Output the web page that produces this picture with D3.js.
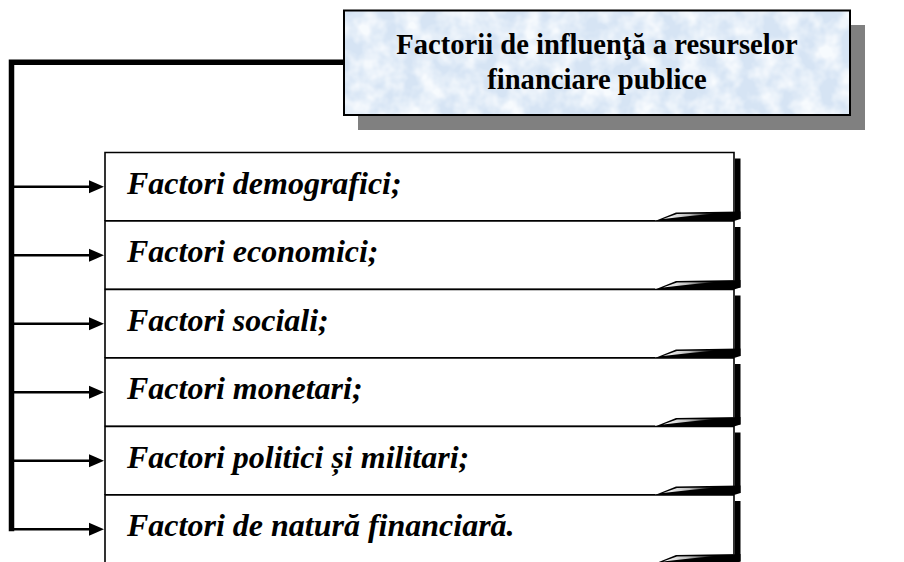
<!DOCTYPE html>
<html><head><meta charset="utf-8">
<script src="https://cdn.jsdelivr.net/npm/d3@7"></script>
<style>html,body{margin:0;padding:0;background:#fff;}svg{display:block;}</style>
</head><body>
<script>
const titleLines = ["Factorii de influenţă a resurselor", "financiare publice"];
const factors = [
  "Factori demografici;",
  "Factori economici;",
  "Factori sociali;",
  "Factori monetari;",
  "Factori politici și militari;",
  "Factori de natură financiară."
];

const W = 904, H = 562;
const svg = d3.select("body").append("svg").attr("width", W).attr("height", H);
const defs = svg.append("defs");
const g1 = defs.append("linearGradient").attr("id","curl").attr("x1","0").attr("x2","1").attr("y1","0").attr("y2","0");
g1.append("stop").attr("offset","0").attr("stop-color","#fff");
g1.append("stop").attr("offset","0.5").attr("stop-color","#bbb");
g1.append("stop").attr("offset","1").attr("stop-color","#000");

// texture for the title box
const f = defs.append("filter").attr("id","tex").attr("x","0").attr("y","0").attr("width","1").attr("height","1");
f.append("feTurbulence").attr("type","fractalNoise").attr("baseFrequency","0.05").attr("numOctaves",3).attr("seed",4).attr("result","n");
f.append("feColorMatrix").attr("in","n").attr("type","matrix")
  .attr("values","0 0 0 0 0.93  0 0 0 0 0.96  0 0 0 0 0.99  0 0 0 -2.2 1.5").attr("result","c");
f.append("feComposite").attr("in","c").attr("in2","SourceGraphic").attr("operator","in");

const y = d3.scaleBand().domain(factors).range([152.5, 152.5 + 68.5 * factors.length]).padding(0);
const boxL = 105, boxR = 734;

// bracket line
svg.append("path")
  .attr("d", `M343,62.2 L11.5,62.2 L11.5,${y(factors[factors.length-1]) + y.bandwidth()/2 + 2}`)
  .attr("fill","none").attr("stroke","#000").attr("stroke-width",5.5);

// title box
svg.append("rect").attr("x",358).attr("y",25).attr("width",507).attr("height",105).attr("fill","#808080");
svg.append("rect").attr("x",344).attr("y",10.5).attr("width",506).attr("height",104.5).attr("fill","#d6e4f4");
svg.append("rect").attr("x",344).attr("y",10.5).attr("width",506).attr("height",104.5)
  .attr("fill","#fff").attr("filter","url(#tex)");
svg.append("rect").attr("x",344).attr("y",10.5).attr("width",506).attr("height",104.5)
  .attr("fill","none").attr("stroke","#000").attr("stroke-width",2);
svg.append("text").attr("x",597).attr("text-anchor","middle")
  .attr("font-family","'Liberation Serif','Times New Roman',serif").attr("font-weight","bold").attr("font-size",28.6)
  .selectAll("tspan").data(titleLines).join("tspan")
  .attr("x",597).attr("y",(d,i)=>53.5 + i*35).text(d=>d);

// factor boxes
const rows = svg.append("g").selectAll("g").data(factors).join("g")
  .attr("transform", d => `translate(0,${y(d)})`);
const h = y.bandwidth();
rows.append("rect").attr("x",boxR+1).attr("y",6).attr("width",5.5).attr("height",h-8).attr("fill","#000");
rows.append("path")
  .attr("d", `M${boxL},${h} L${boxL},0 L${boxR},0 L${boxR},${h-9}`)
  .attr("fill","#fff").attr("stroke","#000").attr("stroke-width",1.6);
rows.append("path")
  .attr("d", `M${boxL},${h} L655,${h} L676,${h-8.5} L${boxR+6.5},${h-9.5} L${boxR+6.5},${h-2} L${boxR},${h} Z`)
  .attr("fill","#000");
rows.append("path")
  .attr("d", `M663,${h-2} L677,${h-7} L715,${h-7.5} L690,${h-5} Z`)
  .attr("fill","url(#curl)");
rows.append("line").attr("x1",boxL).attr("x2",655).attr("y1",h).attr("y2",h)
  .attr("stroke","#000").attr("stroke-width",2);
rows.append("line").attr("x1",14).attr("x2",92).attr("y1",h/2).attr("y2",h/2)
  .attr("stroke","#000").attr("stroke-width",2.5);
rows.append("path").attr("d",`M89,${h/2-6.5} L104,${h/2} L89,${h/2+6.5} Z`).attr("fill","#000");
rows.append("text").attr("x",127).attr("y",41)
  .attr("font-family","'Liberation Serif','Times New Roman',serif").attr("font-weight","bold").attr("font-style","italic")
  .attr("font-size",32).text(d=>d);
</script>
</body></html>
